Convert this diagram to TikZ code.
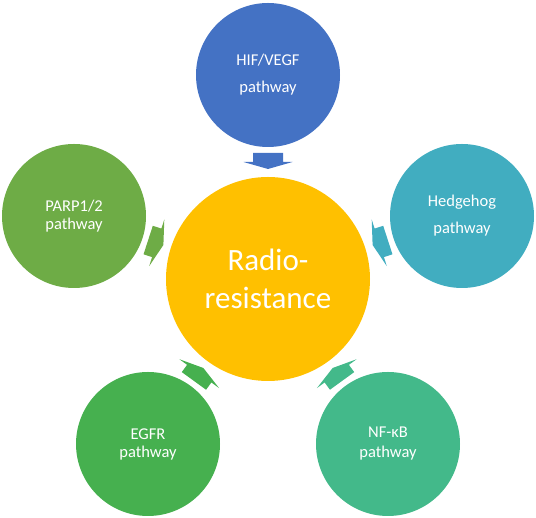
\documentclass[tikz,border=0pt]{standalone}
\usepackage{fontspec}
\setmainfont{Carlito}
\definecolor{cyel}{HTML}{FFC000}
\definecolor{cblue}{HTML}{4472C4}
\definecolor{cteal}{HTML}{41ADC0}
\definecolor{cparp}{HTML}{6EAC46}
\definecolor{cegfr}{HTML}{46B04F}
\definecolor{cnfkb}{HTML}{43B98A}
\begin{document}
\begin{tikzpicture}[x=1pt,y=1pt,
  bub/.style={circle, minimum size=144pt, inner sep=0pt, text=white, align=center,
    font=\fontsize{16.5}{18}\selectfont},
  hub/.style={circle, fill=cyel, minimum size=204pt, inner sep=0pt, text=white, align=center,
    font=\fontsize{31}{38}\selectfont},
  blk/.style={draw=none}]
\useasboundingbox (0,0) rectangle (536,518);
\node[hub] (rr) at (268,239) {Radio-\\resistance};
\node[bub, fill=cblue] (hif) at (268,443) {HIF/VEGF\\[9pt]pathway};
\node[bub, fill=cteal] (hh) at (462,302) {Hedgehog\\[9pt]pathway};
\node[bub, fill=cparp] (parp) at (74,302) {PARP1/2\\pathway};
\node[bub, fill=cegfr] (egfr) at (148,74) {EGFR\\pathway};
\node[bub, fill=cnfkb] (nfkb) at (388,74) {NF-κB\\[2pt]pathway};
\foreach \ang/\col in {90/cblue, 18/cteal, 162/cparp, -54/cnfkb, -126/cegfr}{
  \fill[\col, shift={(rr.center)}, rotate=\ang]
    (126,-15) -- (117,-15) -- (117,-24.5) -- (110,0) -- (117,24.5) -- (117,15) -- (126,15) -- cycle;
}
\end{tikzpicture}
\end{document}
